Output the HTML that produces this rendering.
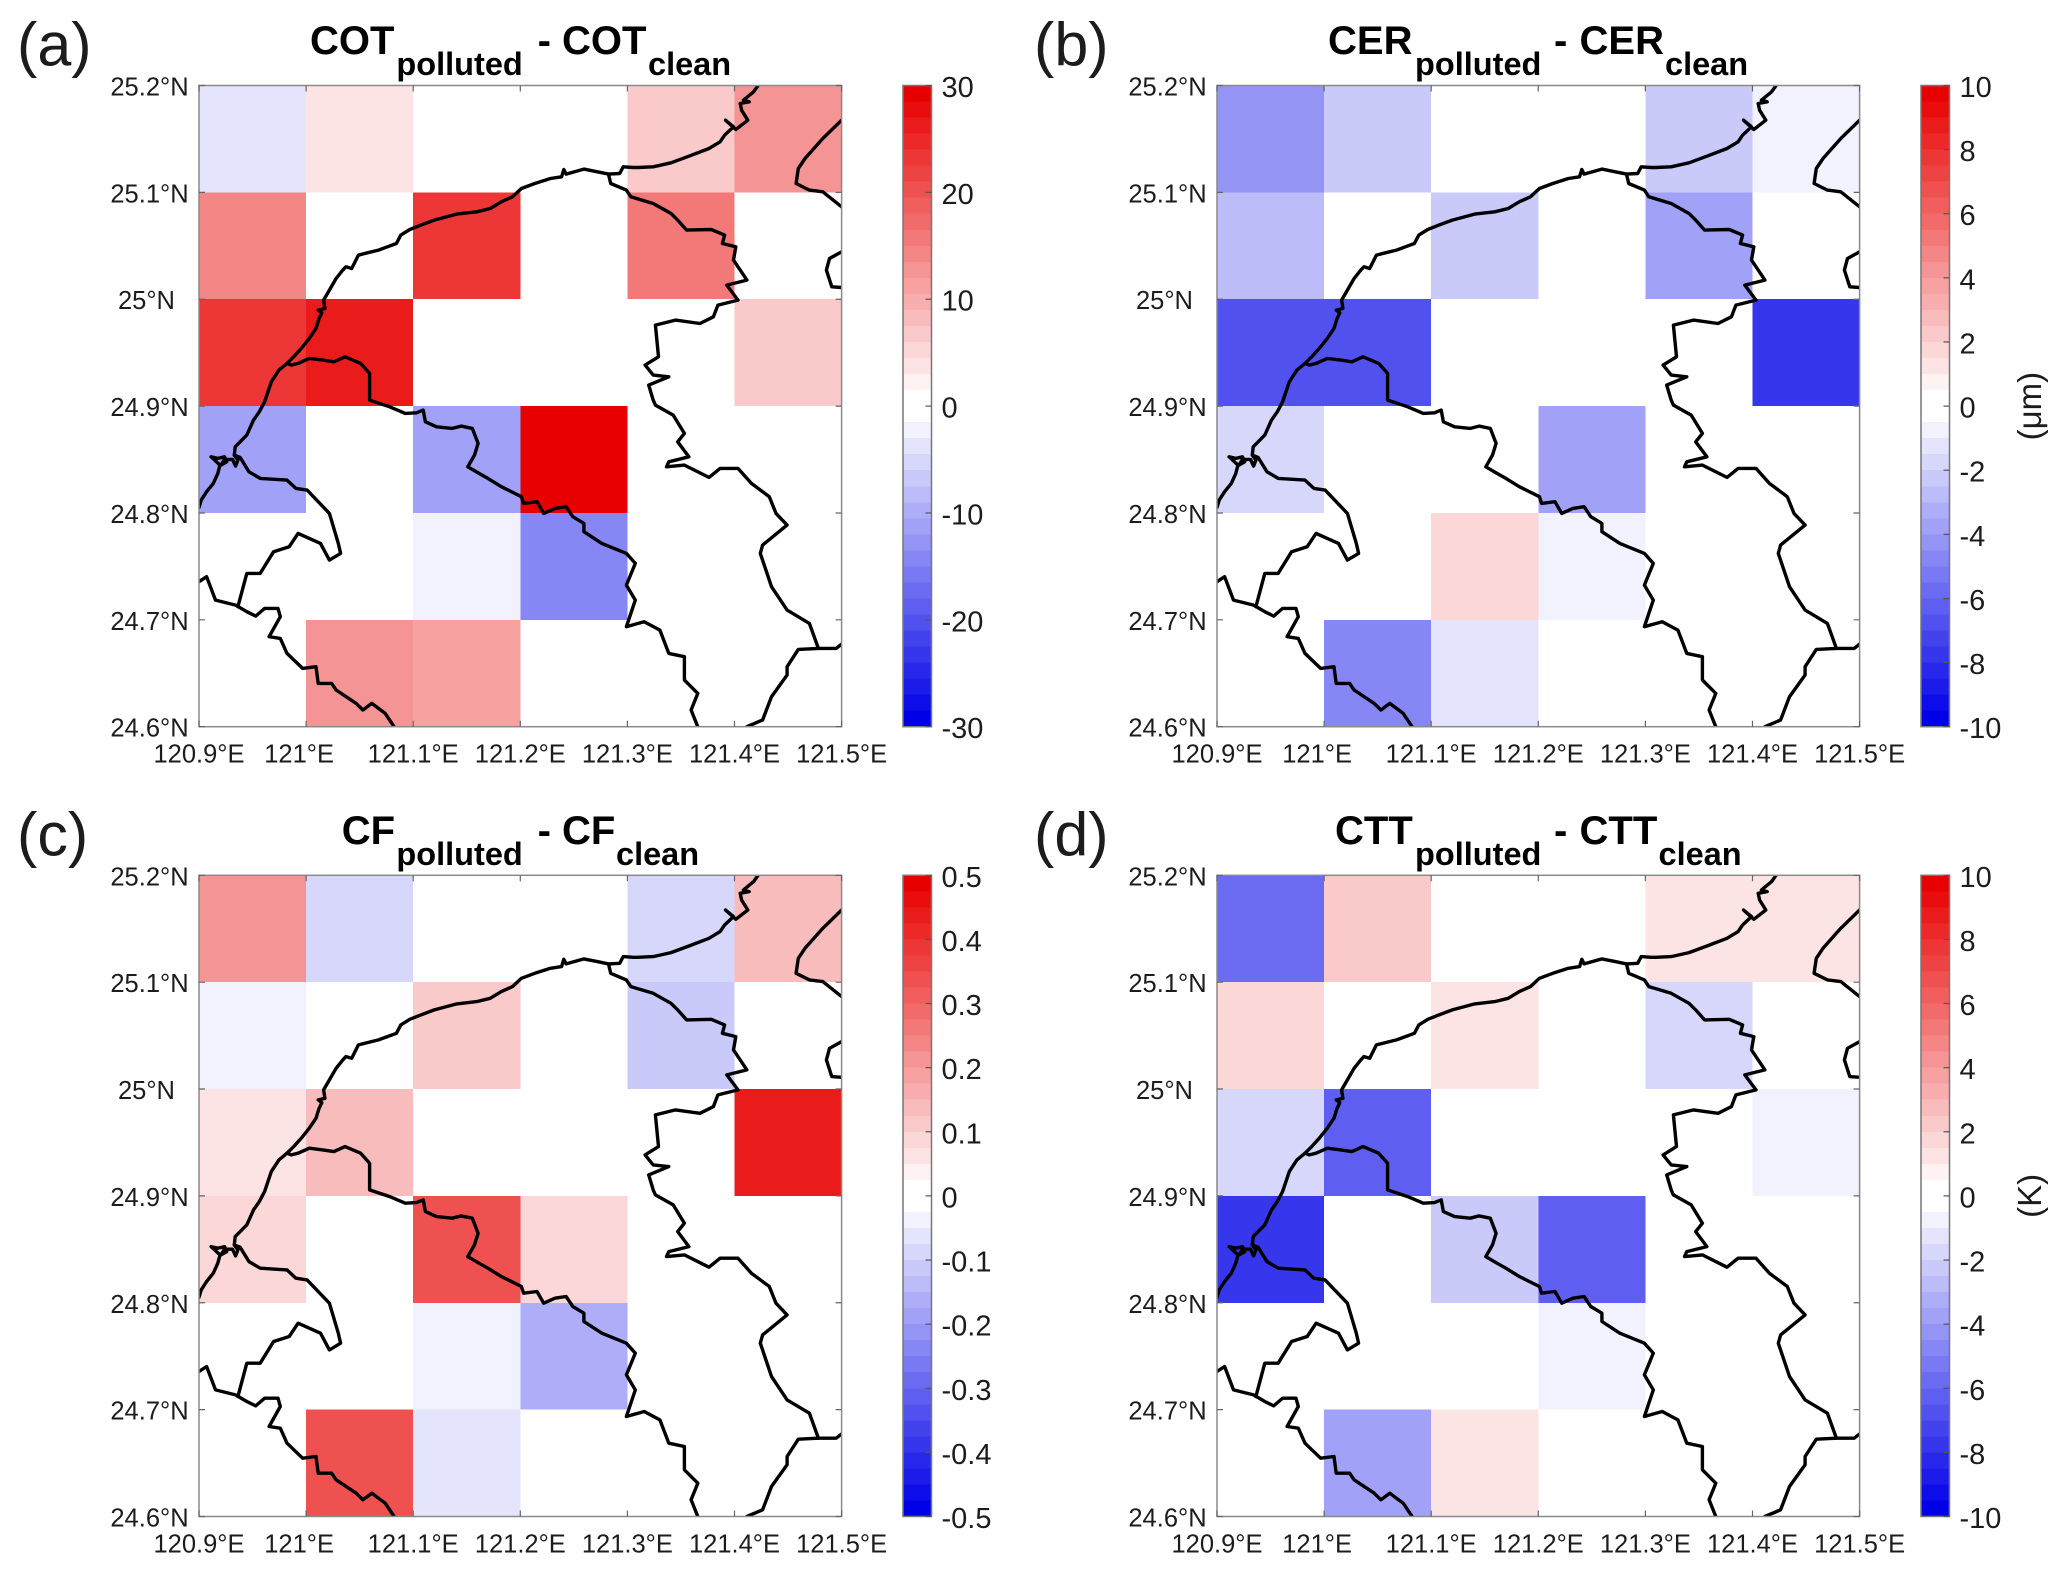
<!DOCTYPE html>
<html lang="en">
<head>
<meta charset="utf-8">
<title>Cloud property differences, polluted minus clean</title>
<style>
html,body{margin:0;padding:0;background:#fff;width:2067px;height:1575px;overflow:hidden}
svg{display:block}
text{font-family:"Liberation Sans",sans-serif;fill:#1c1c1c}
</style>
</head>
<body>
<svg id="figure" xmlns="http://www.w3.org/2000/svg" width="2067" height="1575" viewBox="0 0 2067 1575">
<rect width="2067" height="1575" fill="#fff"/>
</svg>
<script>
// Grid: west edge of each column, south edge of each row
const cellLons = [120.9, 121.0, 121.1, 121.2, 121.3, 121.4];
const cellLats = [25.1, 25.0, 24.9, 24.8, 24.7, 24.6];

// Differences (polluted - clean), one row per latitude band, north to south
const cotDiff = [
  [-3.5, 3.5, 0, 0, 7, 13],
  [14, 0, 23.5, 0, 15.5, 0],
  [23.5, 27, 0, 0, 0, 7],
  [-11, 0, -11, 30, 0, 0],
  [0, 0, -2, -14.5, 0, 0],
  [0, 12.5, 11, 0, 0, 0]
];
const cerDiff = [
  [-4.3, -2.2, 0, 0, -2.2, -0.7],
  [-2.6, 0, -2.2, 0, -3.7, 0],
  [-6.8, -6.8, 0, 0, 0, -8],
  [-1.6, 0, 0, -3.7, 0, 0],
  [0, 0, 1.7, -0.7, 0, 0],
  [0, -5, -1.1, 0, 0, 0]
];
const cfDiff = [
  [0.21, -0.08, 0, 0, -0.08, 0.14],
  [-0.03, 0, 0.11, 0, -0.11, 0],
  [0.06, 0.14, 0, 0, 0, 0.45],
  [0.08, 0, 0.34, 0.08, 0, 0],
  [0, 0, -0.03, -0.16, 0, 0],
  [0, 0.34, -0.06, 0, 0, 0]
];
const cttDiff = [
  [-5.8, 2.2, 0, 0, 1.1, 1.1],
  [1.6, 0, 1.1, 0, -1.6, 0],
  [-1.6, -6.5, 0, 0, 0, -0.7],
  [-8, 0, -2.2, -6.5, 0, 0],
  [0, 0, 0, -0.7, 0, 0],
  [0, -3.7, 1.1, 0, 0, 0]
];

// Axis ticks and their printed labels
const lonTicks = [120.9, 121.0, 121.1, 121.2, 121.3, 121.4, 121.5];
const lonTickLabels = ['120.9°E', '121°E', '121.1°E', '121.2°E', '121.3°E', '121.4°E', '121.5°E'];
const latTicks = [25.2, 25.1, 25.0, 24.9, 24.8, 24.7, 24.6];
const latTickLabels = ['25.2°N', '25.1°N', '25°N', '24.9°N', '24.8°N', '24.7°N', '24.6°N'];
const cotScaleTicks = [30, 20, 10, 0, -10, -20, -30];
const cerScaleTicks = [10, 8, 6, 4, 2, 0, -2, -4, -6, -8, -10];
const cfScaleTicks = ['0.5', '0.4', '0.3', '0.2', '0.1', '0', '-0.1', '-0.2', '-0.3', '-0.4', '-0.5'];
const cttScaleTicks = [10, 8, 6, 4, 2, 0, -2, -4, -6, -8, -10];
const bandCount = 40;

// Coastline and boundaries, traced on a map grid (converted to lon/lat by traceLon/traceLat).
// Each line is a list of [gridRowOffset, "x,y x,y ..."] segments.
const mapLines = [
  [[990,'43,322 48,300 60,275 75,250 85,220 90,195 70,170 85,175 100,170 105,185 92,195 100,178 118,178 125,198 130,180 122,165 124,140 150,105 165,60 178,35 190,5'],
   [0,'205,935 222,900 240,880 255,860 272,835 290,805 305,775 312,745 318,728 310,720 325,715 322,690 335,660 350,625 365,600 372,590 385,595 400,555 420,548 445,540 465,530 485,520 495,495 515,478 540,465 570,450 620,432 665,425 695,415 720,395 745,380 765,355 795,340 830,325 855,320 860,298 865,312 905,297 935,305 960,312 985,310 993,290 1015,292 1025,292 1060,290 1100,278 1140,258 1185,235 1210,215 1220,195 1240,170 1222,150 1245,178 1272,150 1258,120 1255,100 1275,95 1262,90 1285,65 1295,46']],
  [[0,'240,880 250,885 265,880 290,865 320,870 345,875 370,860 405,880 425,910 425,990 470,1010 505,1030'],
   [990,'505,40 530,38 545,30 550,65 575,80 610,85 630,78 655,85 668,130 660,165 645,200 670,220 690,235 720,260 765,290 770,310 800,305 815,340 840,325 865,320 880,350 905,370 905,395 945,430 1000,460 1020,490 1000,555 1020,600 1000,680 1040,665 1075,690 1095,760 1130,770 1130,840 1160,880 1145,930 1160,980']],
  [[0,'960,312 965,340 1000,360 1010,380 1060,400 1100,430 1115,450 1135,480 1190,478 1220,495 1215,520 1245,530 1240,570 1270,630 1225,645 1250,690 1205,705 1195,740 1165,760 1110,750 1065,765 1072,860 1042,885 1060,915 1095,920 1050,945 1060,990'],
   [990,'1065,15 1105,45 1130,100 1115,125 1140,170 1095,185 1090,200 1130,195 1185,232 1210,205 1250,205 1280,250 1320,290 1335,340 1360,375 1305,435 1300,460 1325,560 1360,630 1410,670 1430,745 1470,745 1482,732']],
  [[990,'1430,745 1385,748 1360,800 1360,825 1325,890 1305,960 1270,980']],
  [[990,'122,165 135,172 155,215 180,235 240,240 260,265 285,270 335,340 355,430 360,460 335,480 315,430 265,400 245,440 210,455 180,520 150,520 130,620']],
  [[990,'43,545 60,530 80,600 125,615 150,635 170,648 190,625 220,625 225,650 200,710 225,715 240,760 275,805 305,800 310,850 340,850 350,870 395,910 410,930 430,910 460,940 480,980']],
  [[0,'1482,150 1440,205 1400,265 1385,295 1380,340 1410,360 1440,365 1482,410']],
  [[0,'1482,545 1455,565 1448,600 1460,650 1482,652']]
];

const NS = 'http://www.w3.org/2000/svg';
const svg = document.getElementById('figure');
const plotWidth = 642.6;
const plotHeight = 641.2;

function traceLon(x) { return 120.9 + (x - 43) / 1439 * 0.6; }
function traceLat(y) { return 25.2 - (y - 46) / 1924 * 0.6; }
function xScale(p, lon) { return p.left + (lon - 120.9) / 0.6 * plotWidth; }
function yScale(p, lat) { return p.top + (25.2 - lat) / 0.6 * plotHeight; }
function scaleY(p, v) { return p.top + (p.range - v) / (2 * p.range) * plotHeight; }

function shade(frac) {
  // frac in [-1,1]: discrete diverging blue-white-red map
  const f = Math.max(-1, Math.min(1, frac));
  const k = Math.max(1, Math.ceil(Math.abs(f) * bandCount / 2));
  const t = (k - 1) / (bandCount / 2 - 1);
  const hi = Math.round(255 - 23 * t);
  const lo = Math.round(255 * (1 - t));
  return f >= 0 ? 'rgb(' + hi + ',' + lo + ',' + lo + ')' : 'rgb(' + lo + ',' + lo + ',' + hi + ')';
}

function make(tag, parent, attrs) {
  const el = document.createElementNS(NS, tag);
  for (const k in attrs) el.setAttribute(k, attrs[k]);
  parent.appendChild(el);
  return el;
}

const panels = [
  {id:'cot', letter:'(a)', values:cotDiff, range:30, ticks:cotScaleTicks, left:199, top:85.5, letterX:17, title:'COT',
   titleX:[310, 396.4, 537.6, 562, 648], unit:null},
  {id:'cer', letter:'(b)', values:cerDiff, range:10, ticks:cerScaleTicks, left:1217, top:85.5, letterX:1034, title:'CER',
   titleX:[1328, 1415, 1554, 1579.5, 1665], unit:'(μm)'},
  {id:'cf', letter:'(c)', values:cfDiff, range:0.5, ticks:cfScaleTicks, left:199, top:875.3, letterX:17, title:'CF',
   titleX:[341.7, 396.4, 537.6, 562, 616], unit:null},
  {id:'ctt', letter:'(d)', values:cttDiff, range:10, ticks:cttScaleTicks, left:1217, top:875.3, letterX:1034, title:'CTT',
   titleX:[1335, 1415, 1554, 1579.5, 1658.5], unit:'(K)'}
];

panels.forEach(function (p) {
  const g = make('g', svg, {});
  
  

  // Panel letter
  const letter = make('text', g, {x: p.letterX, y: p.top - 20, 'font-size': 61, fill: '#111'});
  letter.textContent = p.letter;
  
  

  // Title
  const title = make('text', g, {y: p.top - 31.5, 'font-size': 40, 'font-weight': 'bold', fill: '#000'});
  
  
  const parts = [[p.title, 40, -31.5], ['polluted', 32.5, -10.5], ['-', 40, -31.5], [p.title, 40, -31.5], ['clean', 32.5, -10.5]];
  parts.forEach(function (part, i) {
    const ts = make('tspan', title, {x: p.titleX[i], y: p.top + part[2], 'font-size': part[1], style: 'fill:#000'});
    ts.textContent = part[0];
  });

  // Heatmap cells
  const cells = make('g', g, {'shape-rendering': 'crispEdges'});
  
  
  p.values.forEach(function (row, r) {
    row.forEach(function (v, c) {
      const x0 = xScale(p, cellLons[c]);
      const x1 = xScale(p, cellLons[c] + 0.1);
      const y0 = yScale(p, cellLats[r] + 0.1);
      const y1 = yScale(p, cellLats[r]);
      const cell = make('rect', cells, {x: x0, y: y0, width: x1 - x0, height: y1 - y0, fill: shade(v / p.range)});
      
      
    });
  });

  // Map lines
  const clipId = 'clip-' + p.id;
  const clip = make('clipPath', g, {id: clipId});
  make('rect', clip, {x: p.left, y: p.top, width: plotWidth, height: plotHeight});
  const map = make('g', g, {'clip-path': 'url(#' + clipId + ')', fill: 'none', stroke: '#000', 'stroke-width': 3.4, 'stroke-linejoin': 'round', 'stroke-linecap': 'round'});
  
  
  mapLines.forEach(function (line) {
    let d = '';
    line.forEach(function (seg) {
      seg[1].split(' ').forEach(function (pt) {
        const xy = pt.split(',');
        const px = xScale(p, traceLon(+xy[0]));
        const py = yScale(p, traceLat(+xy[1] + seg[0]));
        d += (d ? 'L' : 'M') + px.toFixed(1) + ' ' + py.toFixed(1);
      });
    });
    const path = make('path', map, {d: d});
    
    
  });

  // Axes box
  const box = make('rect', g, {x: p.left, y: p.top, width: plotWidth, height: plotHeight, fill: 'none', stroke: '#8a8a8a', 'stroke-width': 1.5});
  
  

  // Longitude ticks and labels
  lonTicks.forEach(function (lon, i) {
    const x = xScale(p, lon);
    make('path', g, {d: 'M' + x + ' ' + (p.top + plotHeight) + 'v-6M' + x + ' ' + p.top + 'v6', stroke: '#666', 'stroke-width': 1.2});
    const shift = lonTickLabels[i] === '121°E' ? -7 : 0;
    const t = make('text', g, {x: x + shift, y: p.top + plotHeight + 36, 'font-size': 25.5, 'text-anchor': 'middle'});
    t.textContent = lonTickLabels[i];
    
    
  });

  // Latitude ticks and labels
  latTicks.forEach(function (lat, i) {
    const y = yScale(p, lat);
    make('path', g, {d: 'M' + p.left + ' ' + y + 'h6M' + (p.left + plotWidth) + ' ' + y + 'h-6', stroke: '#666', 'stroke-width': 1.2});
    const shift = latTickLabels[i] === '25°N' ? -3 : 0;
    const t = make('text', g, {x: p.left - 49.5 + shift, y: y + 10, 'font-size': 25.5, 'text-anchor': 'middle'});
    t.textContent = latTickLabels[i];
    
    
  });

  // Colorbar
  const cbLeft = p.left + 704;
  const cbWidth = 28.5;
  const cb = make('g', g, {'shape-rendering': 'crispEdges'});
  
  
  for (let b = 0; b < bandCount; b++) {
    const hiVal = p.range - b * 2 * p.range / bandCount;
    const loVal = hiVal - 2 * p.range / bandCount;
    const mid = (hiVal + loVal) / 2;
    const y0 = scaleY(p, hiVal);
    const y1 = scaleY(p, loVal);
    const band = make('rect', cb, {x: cbLeft, y: y0, width: cbWidth, height: y1 - y0 + 0.5, fill: shade(mid / p.range)});
    
    
  }
  make('rect', g, {x: cbLeft, y: p.top, width: cbWidth, height: plotHeight, fill: 'none', stroke: '#777', 'stroke-width': 1.5});
  p.ticks.forEach(function (tick) {
    const y = scaleY(p, +tick);
    make('path', g, {d: 'M' + (cbLeft + cbWidth) + ' ' + y + 'h-6', stroke: '#555', 'stroke-width': 1.2});
    const t = make('text', g, {x: cbLeft + 38.5, y: y + 11.5, 'font-size': 29});
    t.textContent = String(tick);
    
    
  });

  // Unit label
  if (p.unit) {
    const cy = p.top + plotHeight / 2;
    const u = make('text', g, {transform: 'translate(2041 ' + cy + ') rotate(-90)', 'font-size': 33, 'text-anchor': 'middle'});
    u.textContent = p.unit;
    
    
  }
});
</script>
</body>
</html>
